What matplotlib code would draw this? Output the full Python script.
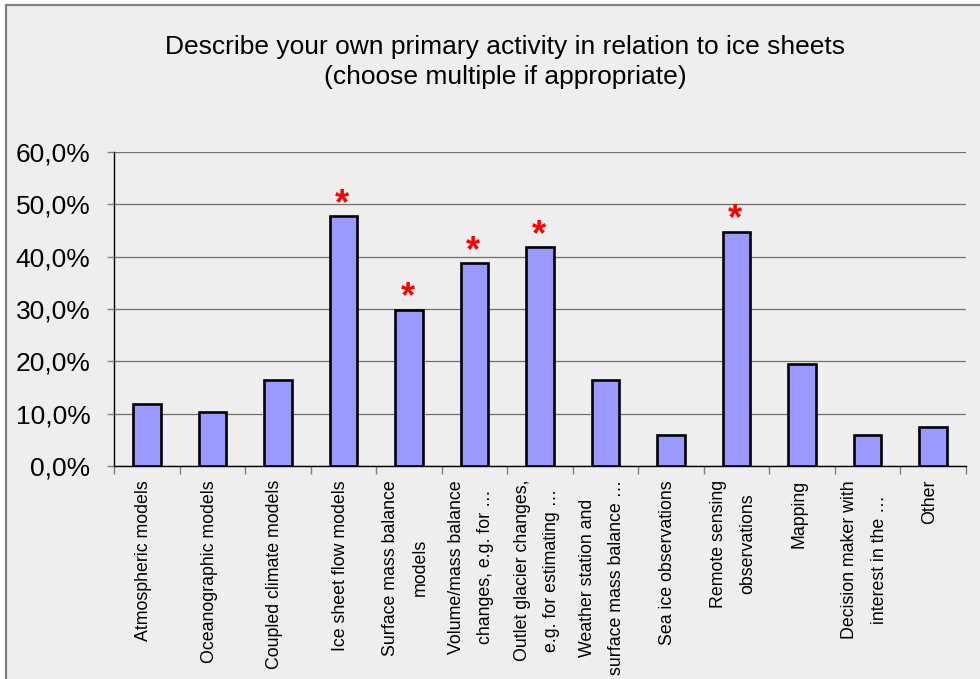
import matplotlib
matplotlib.use("Agg")
import matplotlib.pyplot as plt
from matplotlib.patches import Rectangle
import numpy as np

plt.rcParams['font.family'] = ['Liberation Sans', 'DejaVu Sans']

categories = [
    "Atmospheric models",
    "Oceanographic models",
    "Coupled climate models",
    "Ice sheet flow models",
    "Surface mass balance\nmodels",
    "Volume/mass balance\nchanges, e.g. for \u2026",
    "Outlet glacier changes,\ne.g. for estimating \u2026",
    "Weather station and\nsurface mass balance \u2026",
    "Sea ice observations",
    "Remote sensing\nobservations",
    "Mapping",
    "Decision maker with\ninterest in the \u2026",
    "Other",
]
values = [11.9, 10.4, 16.4, 47.8, 29.9, 38.8, 41.8, 16.4, 6.0, 44.8, 19.4, 6.0, 7.5]
starred = [False, False, False, True, True, True, True, False, False, True, False, False, False]
yticks = [0, 10, 20, 30, 40, 50, 60]
ytick_labels = ["0,0%", "10,0%", "20,0%", "30,0%", "40,0%", "50,0%", "60,0%"]
title = "Describe your own primary activity in relation to ice sheets\n(choose multiple if appropriate)"

W, H = 980, 679
fig = plt.figure(figsize=(W / 100, H / 100), dpi=100, facecolor="white")

# chart area background with border (top and left edges visible)
bg = Rectangle((6 / W, -0.05), 1.2, 1 - 5 / H + 0.05, transform=fig.transFigure,
               facecolor="#EEEEEE", edgecolor="#808080", lw=1.6, zorder=-10)
fig.patches.append(bg)

ax = fig.add_axes([114 / W, 1 - 466 / H, (966 - 114) / W, (466 - 152) / H], zorder=1)
ax.set_facecolor("#EEEEEE")

x = np.arange(len(categories))
ax.bar(x, values, width=0.42, color="#9999FF", edgecolor="black", linewidth=1.9, zorder=3)

for xi, v, s in zip(x, values, starred):
    if s:
        ax.annotate("*", (xi, v), xytext=(-1, 1.5), textcoords="offset points",
                    ha="center", va="baseline", color="#FF0000", fontsize=26,
                    fontweight="bold", zorder=4)

ax.set_xlim(-0.5, len(categories) - 0.5)
ax.set_ylim(0, 60)
ax.set_yticks(yticks)
ax.set_yticklabels(ytick_labels, fontsize=19)
ax.yaxis.grid(True, color="#707070", linewidth=0.9, zorder=1)
ax.set_axisbelow(True)

# boundary ticks (major) and category labels (minor)
ax.set_xticks(np.arange(-0.5, len(categories), 1.0))
ax.set_xticklabels([])
ax.set_xticks(x - 0.05, minor=True)
ax.set_xticklabels(categories, minor=True, rotation=90, fontsize=12.8,
                   multialignment="center", linespacing=1.95)
ax.tick_params(axis="x", which="major", direction="out", length=6, color="#808080", width=1)
ax.tick_params(axis="x", which="minor", length=0, pad=10)
ax.tick_params(axis="y", direction="out", length=5, color="#808080", width=1, pad=12)

for side in ["top", "right"]:
    ax.spines[side].set_visible(False)
ax.spines["left"].set_color("black")
ax.spines["bottom"].set_color("black")
ax.spines["left"].set_linewidth(1)
ax.spines["bottom"].set_linewidth(1)

fig.text(505 / W, 1 - 62 / H, title, ha="center", va="center", fontsize=19, linespacing=1.28)

fig.savefig("out.png", dpi=100, facecolor="white")
